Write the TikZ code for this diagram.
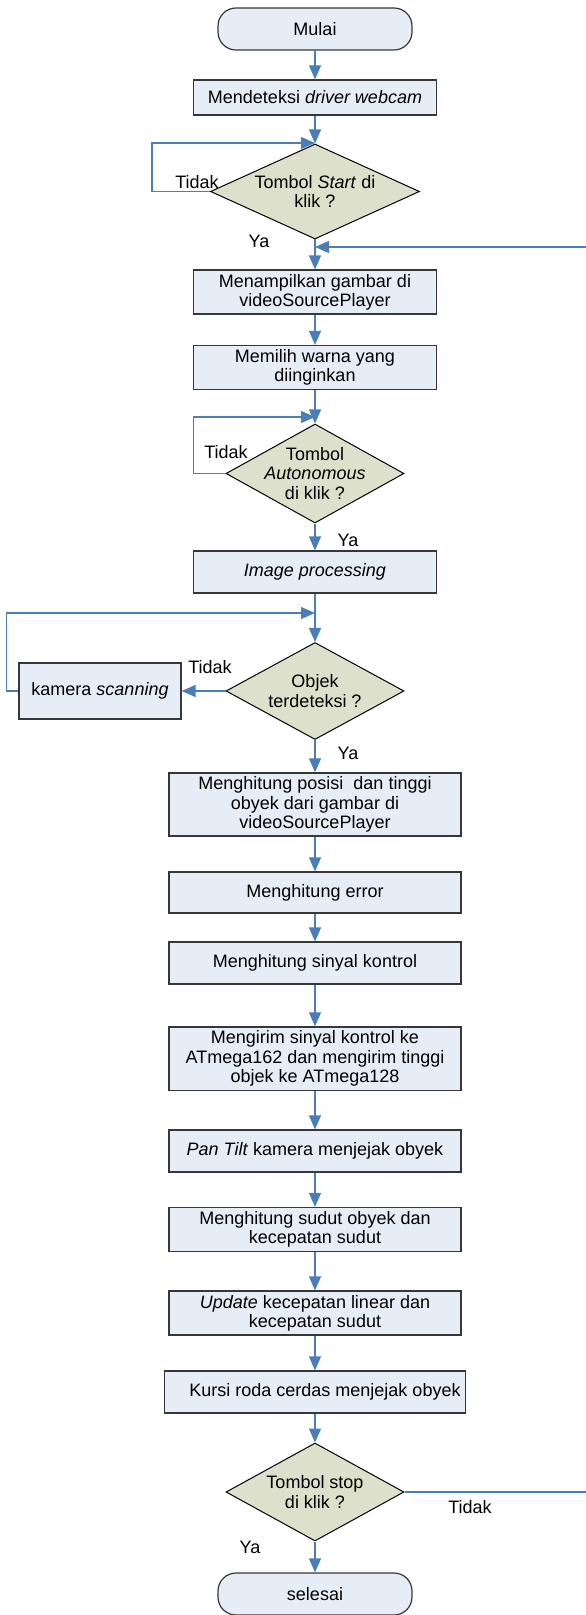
\documentclass[tikz,border=0pt]{standalone}
\usepackage{fontspec}
\setmainfont{Liberation Sans}
\usetikzlibrary{arrows.meta,shapes.geometric}
\definecolor{boxfill}{RGB}{231,237,247}
\definecolor{decfill}{RGB}{221,225,203}
\definecolor{lineblue}{RGB}{74,126,187}
\definecolor{boxline}{RGB}{55,55,55}

\begin{document}
\begin{tikzpicture}[x=0.5pt,y=-0.5pt,
    font=\fontsize{9}{9.6}\selectfont,
    flow/.style={draw=lineblue,line width=0.6pt,-{Triangle[length=7pt,width=6pt,fill=lineblue]}},
    terminal/.style={draw=boxline,fill=boxfill,line width=0.6pt,rounded corners=9pt,minimum width=97pt,minimum height=21pt},
    process/.style={draw=boxline,fill=boxfill,line width=0.6pt,align=center,inner sep=2pt,minimum width=121.5pt,minimum height=21pt},
    wideprocess/.style={process,minimum width=146pt},
    decision/.style={diamond,draw=black,fill=decfill,line width=0.5pt,align=center,inner sep=-10pt,minimum width=89pt,minimum height=48pt}]
    \useasboundingbox (0,0) rectangle (585,1615);

    \node[terminal] (mulai) at (315,29) {Mulai};
    \node[process,minimum height=17.5pt] (deteksi) at (315,97.5) {Mendeteksi \textit{driver webcam}};
    \node[decision,minimum width=104.5pt,minimum height=47.5pt] (start) at (315,191.5) {Tombol \textit{Start} di\\klik ?};
    \node[process] (tampil) at (315,292) {Menampilkan gambar di\\videoSourcePlayer};
    \node[process,minimum height=20.5pt] (pilih) at (315,367.5) {Memilih warna yang\\diinginkan};
    \node[decision,minimum height=49.5pt] (otonom) at (315,473.5) {Tombol\\\textit{Autonomous}\\di klik ?};
    \node[process] (olah) at (315,572) {\textit{Image processing}};
    \node[decision,minimum height=48.5pt] (objek) at (315,691) {Objek\\terdeteksi ?};
    \node[process,minimum width=81pt,minimum height=28pt] (scan) at (100,691) {kamera \textit{scanning}};
    \node[wideprocess,minimum height=31.5pt] (posisi) at (315,804.5) {Menghitung posisi~ dan tinggi\\obyek dari gambar di\\videoSourcePlayer};
    \node[wideprocess,minimum height=20.5pt] (error) at (315,892.5) {Menghitung error};
    \node[wideprocess,minimum height=21pt] (sinyal) at (315,963) {Menghitung sinyal kontrol};
    \node[wideprocess,minimum height=31.5pt] (kirim) at (315,1058.5) {Mengirim sinyal kontrol ke\\ATmega162 dan mengirim tinggi\\objek ke ATmega128};
    \node[wideprocess] (pantilt) at (315,1151) {\textit{Pan Tilt} kamera menjejak obyek};
    \node[wideprocess,minimum height=21.5pt] (sudut) at (315,1229.5) {Menghitung sudut obyek dan\\kecepatan sudut};
    \node[wideprocess] (update) at (315,1313) {\textit{Update} kecepatan linear dan\\kecepatan sudut};
    \node[process,minimum width=150.5pt] (kursi) at (315,1392) {\hspace*{10pt}Kursi roda cerdas menjejak obyek};
    \node[decision,minimum height=49pt] (stop) at (315,1492) {Tombol stop\\di klik ?};
    \node[terminal] (selesai) at (315,1594) {selesai};

    \node (tidak1) at (197,182) {Tidak};
    \node (ya1) at (259,241) {Ya};
    \node (tidak2) at (226,452) {Tidak};
    \node (ya2) at (348,540) {Ya};
    \node (tidak3) at (210,667) {Tidak};
    \node (ya3) at (348,753) {Ya};
    \node (tidak4) at (470,1507) {Tidak};
    \node (ya4) at (250,1547) {Ya};

    \coordinate (j1) at (315,143);
    \coordinate (j2) at (315,417);
    \coordinate (j3) at (315,613);
    \coordinate (j4) at (315,247);

    \foreach \a/\b in {mulai/deteksi,deteksi/start,start/tampil,tampil/pilih,pilih/otonom,otonom/olah,olah/objek,objek/posisi,posisi/error,error/sinyal,sinyal/kirim,kirim/pantilt,pantilt/sudut,sudut/update,update/kursi,kursi/stop,stop/selesai}
        \draw[flow] (\a) -- (\b);
    \draw[flow] (start.west) -- ++(-58,0) |- (j1);
    \draw[flow] (otonom.west) -- ++(-32,0) |- (j2);
    \draw[flow] (objek.west) -- (scan.east);
    \draw[flow] (scan.west) -- ++(-12,0) |- (j3);
    \draw[flow] (stop.east) -- ++(185,0) |- (j4);
\end{tikzpicture}
\end{document}
